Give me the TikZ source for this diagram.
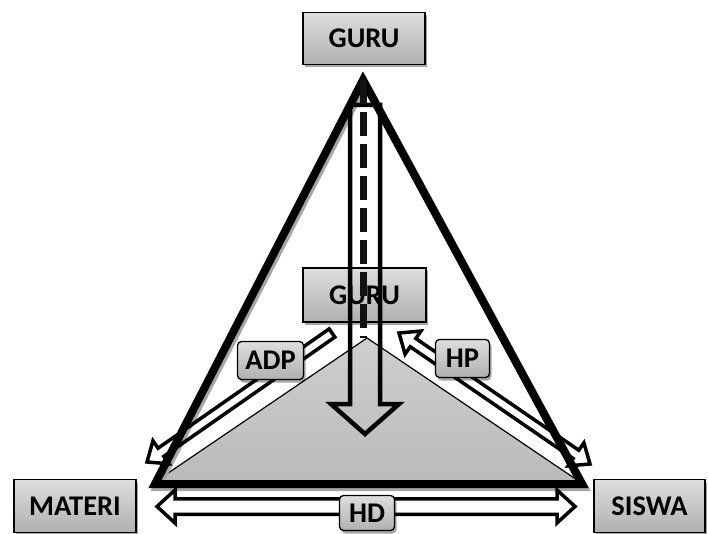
\documentclass[tikz,border=0pt]{standalone}
\usepackage{fontspec}
\setmainfont{Carlito}
\usetikzlibrary{calc,shadows}
% hollow single-headed arrow: from, to, shaft half-width, head half-width, head length, style
\newcommand\hollowone[6]{%
  \draw[#6] let \p1=(#1), \p2=(#2),
     \n1={atan2(\y2-\y1,\x2-\x1)}, \n2={veclen(\x2-\x1,\y2-\y1)} in
     [shift={(\p1)}, rotate=\n1]
     (0pt,-#3pt) -- ({\n2-#5pt},-#3pt) -- ({\n2-#5pt},-#4pt) -- ({\n2+0pt},0pt)
     -- ({\n2-#5pt},#4pt) -- ({\n2-#5pt},#3pt) -- (0pt,#3pt) -- cycle;}
% hollow double-headed arrow
\newcommand\hollowtwo[6]{%
  \draw[#6] let \p1=(#1), \p2=(#2),
     \n1={atan2(\y2-\y1,\x2-\x1)}, \n2={veclen(\x2-\x1,\y2-\y1)} in
     [shift={(\p1)}, rotate=\n1]
     (#5pt,-#3pt) -- ({\n2-#5pt},-#3pt) -- ({\n2-#5pt},-#4pt) -- ({\n2+0pt},0pt)
     -- ({\n2-#5pt},#4pt) -- ({\n2-#5pt},#3pt) -- (#5pt,#3pt) -- (#5pt,#4pt)
     -- (0pt,0pt) -- (#5pt,-#4pt) -- cycle;}
\begin{document}
\begin{tikzpicture}[x=1pt,y=-1pt,
  box/.style={draw=black, line width=1.6pt, top color=black!13, bottom color=black!31,
    inner sep=0pt, font=\bfseries\fontsize{28.5}{30}\selectfont, text=black,
    drop shadow={shadow xshift=2pt, shadow yshift=-3pt, fill=black, opacity=0.35}},
  tag/.style={box, rounded corners=4pt, line width=1.3pt},
  harrow/.style={draw=black, line width=3.5pt, line join=miter},
  varrow/.style={draw=black, line width=4.5pt, line join=miter},
]
\useasboundingbox (0,0) rectangle (708,534);

\coordinate (apex) at (363,80);
\coordinate (bl) at (155,484);
\coordinate (br) at (582,484);
\coordinate (gapex) at (367,338);
\coordinate (gbl) at (152,484);
\coordinate (gbr) at (583,484);

% inner gray triangle
\draw[top color=black!19, bottom color=black!27, draw=black, line width=1.2pt]
  (gapex) -- (gbl) -- (gbr) -- cycle;

% middle GURU box
\node[box, minimum width=123pt, minimum height=54pt] (gmid) at (364.5,295) {GURU};

% big triangle with shadow
\draw[transform canvas={xshift=2pt,yshift=-3pt}, black!35, line width=8pt, line join=miter]
  (apex) -- (bl) -- (br) -- cycle;
\draw[black, line width=8pt, line join=miter] (apex) -- (bl) -- (br) -- cycle;

% vertical hollow arrow
\coordinate (vt) at (365,105);
\coordinate (vh) at (365,434);
\hollowone{vt}{vh}{15}{34}{30}{varrow}

% dashed line
\coordinate (dtop) at (363.5,80);
\coordinate (dbot) at (363.5,338);
\draw[line width=7pt, black!93, dash pattern=on 24pt off 8pt] (dtop) -- (dbot);

% ADP, HP, HD arrows
\coordinate (adpT) at (332,333);
\coordinate (adpH) at (147,462);
\hollowone{adpT}{adpH}{5}{14}{17}{harrow}
\coordinate (hpA) at (399,333);
\coordinate (hpB) at (590,464);
\hollowtwo{hpA}{hpB}{5}{14}{17}{harrow}
\coordinate (hdA) at (157,506.5);
\coordinate (hdB) at (575,506.5);
\hollowtwo{hdA}{hdB}{7.75}{16.5}{18}{harrow}

% labels
\node[tag, minimum width=66pt, minimum height=38pt] (adp) at (270.5,360.5) {ADP};
\node[tag, minimum width=54pt, minimum height=38pt] (hp) at (462.5,358.5) {HP};
\node[tag, minimum width=55pt, minimum height=35pt] (hd) at (367,513) {HD};

% corner boxes
\node[box, minimum width=122pt, minimum height=52pt] (gtop) at (364,38.5) {GURU};
\node[box, minimum width=122pt, minimum height=53pt] (mat) at (75,506) {MATERI};
\node[box, minimum width=111pt, minimum height=53pt] (sis) at (649.5,506) {SISWA};
\end{tikzpicture}
\end{document}
